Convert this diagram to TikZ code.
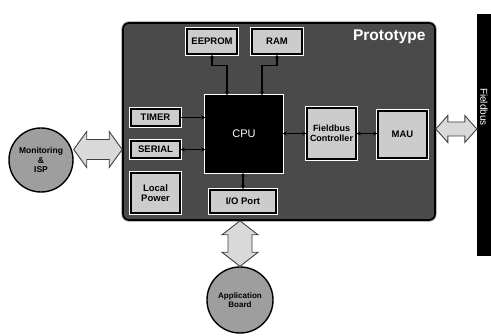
\documentclass[tikz,border=0pt]{standalone}
\usepackage{fontspec}
\setmainfont{Liberation Sans}
\usetikzlibrary{arrows.meta,calc}
\definecolor{protogray}{gray}{0.29}
\definecolor{boxgray}{gray}{0.80}
\definecolor{circgray}{gray}{0.62}
\definecolor{arrgray}{gray}{0.85}
\newcommand{\fatH}[5]{%
  \draw[fatarrow] (#1) -- ++(#3,-#4) -- ++(0,#4-#5) -- ($(#2)+(-#3,-#5)$) -- ++(0,#5-#4) -- (#2)
    -- ++(-#3,#4) -- ++(0,#5-#4) -- ($(#1)+(#3,#5)$) -- ++(0,#4-#5) -- cycle;}
\newcommand{\fatV}[5]{%
  \draw[fatarrow] (#1) -- ++(-#4,#3) -- ++(#4-#5,0) -- ($(#2)+(-#5,-#3)$) -- ++(#5-#4,0) -- (#2)
    -- ++(#4,-#3) -- ++(#5-#4,0) -- ($(#1)+(#5,#3)$) -- ++(#4-#5,0) -- cycle;}
\begin{document}
\begin{tikzpicture}[x=1pt,y=-1pt,
  blk/.style={draw=black, line width=1.4pt, fill=boxgray,
    preaction={draw=white, line width=3.2pt},
    inner sep=0pt, align=center, font=\bfseries\fontsize{9.5}{10.5}\selectfont},
  circ/.style={circle, draw=black, line width=1.4pt, fill=circgray, minimum size=#1,
    inner sep=0pt, align=center},
  fatarrow/.style={draw=black!75, line width=0.9pt, fill=arrgray, line join=miter},
  conn/.style={draw=black, line width=1.3pt, {Stealth[length=4pt,width=4pt]}-{Stealth[length=4pt,width=4pt]}},
  conn1/.style={draw=black, line width=1.3pt, -{Stealth[length=4pt,width=4pt]}}
]
\useasboundingbox (0,0) rectangle (491,336);

% prototype board
\node[draw=black, line width=1.6pt, rounded corners=6pt, fill=protogray,
      preaction={draw=black!40, line width=3.4pt, rounded corners=6pt},
      minimum width=312, minimum height=197, inner sep=0pt] (proto) at (279,121.5) {};
\node[text=white, font=\bfseries\fontsize{15.5}{16}\selectfont, anchor=east] (title) at (429,37) {Prototype};

% blocks
\node[blk, minimum width=50, minimum height=25] (eeprom) at (212,41.5) {EEPROM};
\node[blk, minimum width=50, minimum height=25] (ram) at (277,41.5) {RAM};
\node[draw=black, line width=1.4pt, fill=black, preaction={draw=white, line width=3.2pt},
      minimum width=76, minimum height=76, inner sep=0pt, text=white,
      font=\fontsize{11}{12}\selectfont] (cpu) at (244,134) {CPU};
\node[blk, minimum width=49, minimum height=17] (timer) at (155.5,117.5) {TIMER};
\node[blk, minimum width=49, minimum height=17] (serial) at (155.5,149.5) {SERIAL};
\node[blk, minimum width=49, minimum height=40] (power) at (155.5,193) {Local\\Power};
\node[blk, minimum width=66, minimum height=23] (io) at (243,201.5) {I/O Port};
\node[blk, minimum width=49, minimum height=51, font=\bfseries\fontsize{9}{10}\selectfont] (fbc) at (331.5,133.5) {Fieldbus\\Controller};
\node[blk, minimum width=49, minimum height=47] (mau) at (402.5,134.5) {MAU};

% connectors
\draw[conn] (eeprom.south) -- ++(0,11) -| ([xshift=-17pt]cpu.north);
\draw[conn] (ram.south) -- ++(0,11) -| ([xshift=18pt]cpu.north);
\draw[conn1] (timer.east) -- (cpu.west |- timer.east);
\draw[conn] (serial.east) -- (cpu.west |- serial.east);
\draw[conn] (cpu.east |- fbc.west) -- (fbc.west);
\draw[conn] (fbc.east) -- (mau.west |- fbc.east);
\draw[conn] (cpu.south -| io.north) -- (io.north);

% external
\node[circ=64, font=\bfseries\fontsize{8.5}{9.5}\selectfont] (mon) at (41,160) {Monitoring\\\&\\ISP};
\node[circ=66, font=\bfseries\fontsize{8}{9}\selectfont] (app) at (240,300) {Application\\Board};
\node[fill=black, draw=black, minimum width=14, minimum height=241, inner sep=0pt] (bus) at (484,134.5) {};
\node[rotate=-90, text=white, font=\fontsize{10}{11}\selectfont] (buslabel) at (484,107) {Fieldbus};

% fat double arrows
\coordinate (la) at (mon.east |- serial.east);
\coordinate (lb) at (proto.west |- serial.east);
\fatH{la}{lb}{13}{18}{10}
\coordinate (ra) at ($(proto.east)+(0,7.5)$);
\coordinate (rb) at (bus.west |- ra);
\fatH{ra}{rb}{12}{13.5}{7}
\coordinate (ba) at (app.north |- proto.south);
\coordinate (bb) at (app.north);
\fatV{ba}{bb}{14}{18}{12}
\end{tikzpicture}
\end{document}
